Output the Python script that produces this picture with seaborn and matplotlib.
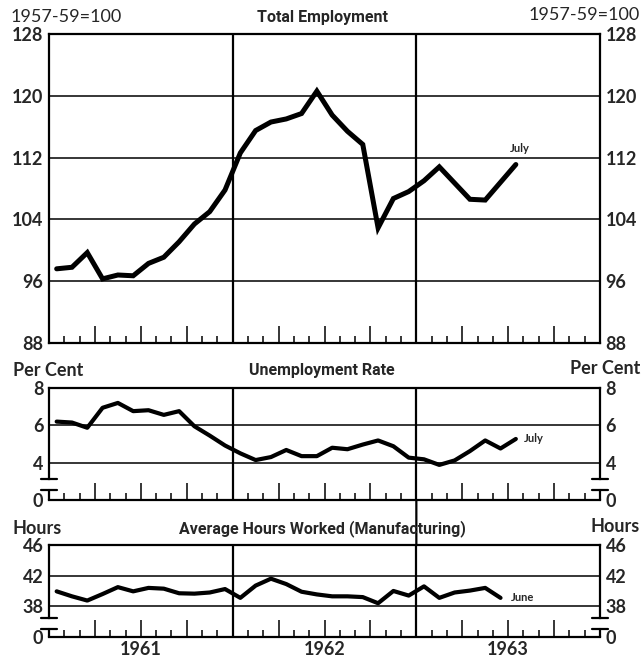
import numpy as np
import pandas as pd
import matplotlib.pyplot as plt
import seaborn as sns
from matplotlib.patches import ConnectionPatch

# -------------------------------
# 1. Monthly data, Jan 1961 onwards
# -------------------------------
employment = [97.6, 97.8, 99.7, 96.3, 96.8, 96.7, 98.3, 99.1, 101.1, 103.4, 105.0, 107.8,
              112.6, 115.5, 116.6, 117.0, 117.7, 120.6, 117.5, 115.4, 113.7, 102.9, 106.7, 107.6,
              109.0, 110.8, 108.7, 106.6, 106.5, 108.8, 111.1]
unemployment = [6.2, 6.15, 5.87, 6.94, 7.2, 6.76, 6.81, 6.56, 6.76, 5.95, 5.45, 4.92,
                4.5, 4.14, 4.3, 4.68, 4.35, 4.35, 4.8, 4.72, 4.97, 5.19, 4.88, 4.27,
                4.18, 3.88, 4.12, 4.62, 5.19, 4.76, 5.27]
hours = [39.95, 39.3, 38.75, 39.6, 40.5, 39.95, 40.4, 40.3, 39.7, 39.65, 39.8, 40.25,
         39.1, 40.7, 41.6, 40.9, 39.9, 39.55, 39.3, 39.3, 39.2, 38.4, 40.0, 39.4,
         40.6, 39.1, 39.8, 40.05, 40.4, 39.1]
years = ["1961", "1962", "1963"]

sns.set_style("white")
plt.rcParams["font.family"] = ["Lato", "DejaVu Sans"]
title_font = ["Roboto", "DejaVu Sans"]


def month_frame(values):
    return pd.DataFrame({"month": np.arange(len(values)) + 0.5, "value": values})


def style_panel(ax, ylim, yticks, ylabels, show_years=False):
    ax.set_xlim(0, 36)
    ax.set_ylim(ylim)
    ax.set_yticks(yticks)
    ax.set_yticklabels(ylabels, fontweight="bold")
    ax.tick_params(axis="y", length=0, pad=4, labelleft=True, labelright=True, labelsize=13)
    ax.set_axisbelow(True)
    ax.grid(axis="y", color="black", lw=1.1)
    ax.grid(axis="x", visible=False)

    quarters = [m for m in range(3, 36, 3) if m % 12 != 0]
    months = [m for m in range(1, 36) if m % 3 != 0]
    ax.set_xticks(quarters)
    ax.set_xticks(months, minor=True)
    labels = [years[q // 12] if q % 12 == 6 else "" for q in quarters]
    ax.set_xticklabels(labels, fontweight="bold", fontsize=13)
    ax.tick_params(axis="x", which="major", direction="in", length=12, width=1.1,
                   bottom=True, top=False, color="black", labelbottom=show_years, pad=3)
    ax.tick_params(axis="x", which="minor", direction="in", length=5, width=1.1,
                   bottom=True, top=False, color="black")
    for yr in (12, 24):
        ax.axvline(yr, color="black", lw=1.6)
    for s in ax.spines.values():
        s.set_color("black")
        s.set_linewidth(1.6)
    ax.set_xlabel("")
    ax.set_ylabel("")


def add_break(ax, lo, hi, bottom):
    top = ax.get_ylim()[1]
    for side, x in (("left", 0), ("right", 1)):
        ax.spines[side].set_bounds(hi, top)
        ax.plot([x, x], [bottom, lo], transform=ax.get_yaxis_transform(),
                color="black", lw=1.6, clip_on=False)
        for y in (lo, hi):
            ax.plot([x - 0.014, x + 0.014], [y, y], transform=ax.get_yaxis_transform(),
                    color="black", lw=1.6, clip_on=False)


fig = plt.figure(figsize=(6.44, 6.62), dpi=100)
ax1 = fig.add_axes([0.0761, 0.4819, 0.8556, 0.4668])
ax2 = fig.add_axes([0.0761, 0.2447, 0.8556, 0.1692])
ax3 = fig.add_axes([0.0761, 0.0378, 0.8556, 0.1390])

# -------------------------------
# 2. Total employment
# -------------------------------
sns.lineplot(data=month_frame(employment), x="month", y="value", ax=ax1,
             color="black", lw=3.6, solid_joinstyle="miter")
style_panel(ax1, (88, 128), [88, 96, 104, 112, 120, 128],
            ["88", "96", "104", "112", "120", "128"])
ax1.annotate("July", xy=(len(employment) - 0.5, employment[-1]), xytext=(4, 11),
             textcoords="offset pixels", ha="center", va="bottom",
             fontsize=8, fontweight="bold")

# -------------------------------
# 3. Unemployment rate
# -------------------------------
sns.lineplot(data=month_frame(unemployment), x="month", y="value", ax=ax2,
             color="black", lw=3.0)
style_panel(ax2, (2, 8), [2, 4, 6, 8], ["0", "4", "6", "8"])
add_break(ax2, 2.55, 3.1, 2)
ax2.annotate("July", xy=(len(unemployment) - 0.5, unemployment[-1]), xytext=(8, 0),
             textcoords="offset pixels", ha="left", va="center",
             fontsize=8, fontweight="bold")

# -------------------------------
# 4. Average hours worked
# -------------------------------
sns.lineplot(data=month_frame(hours), x="month", y="value", ax=ax3,
             color="black", lw=3.0)
style_panel(ax3, (34, 46), [34, 38, 42, 46], ["0", "38", "42", "46"], show_years=True)
add_break(ax3, 35.0, 36.5, 34)
ax3.annotate("June", xy=(len(hours) - 0.5, hours[-1]), xytext=(10, 0),
             textcoords="offset pixels", ha="left", va="center",
             fontsize=8, fontweight="bold")

# the 1963 divider runs through the gap between the lower panels
fig.add_artist(ConnectionPatch(xyA=(24, 2), coordsA=ax2.transData,
                               xyB=(24, 46), coordsB=ax3.transData,
                               color="black", lw=1.6))

# -------------------------------
# 5. Titles and unit labels
# -------------------------------
fig.text(0.5, 0.974, "Total Employment", family=title_font, fontweight="bold",
         fontsize=11.5, ha="center", va="center")
fig.text(0.5, 0.440, "Unemployment Rate", family=title_font, fontweight="bold",
         fontsize=11.5, ha="center", va="center")
fig.text(0.5, 0.201, "Average Hours Worked (Manufacturing)", family=title_font,
         fontweight="bold", fontsize=11.5, ha="center", va="center")

fig.text(0.016, 0.974, "1957-59=100", fontsize=13, ha="left", va="center")
fig.text(0.994, 0.977, "1957-59=100", fontsize=13, ha="right", va="center")
fig.text(0.02, 0.441, "Per Cent", fontsize=13, fontweight="bold", ha="left", va="center")
fig.text(0.994, 0.443, "Per Cent", fontsize=13, fontweight="bold", ha="right", va="center")
fig.text(0.02, 0.202, "Hours", fontsize=13, fontweight="bold", ha="left", va="center")
fig.text(0.994, 0.204, "Hours", fontsize=13, fontweight="bold", ha="right", va="center")

plt.savefig("out.png", dpi=100)
